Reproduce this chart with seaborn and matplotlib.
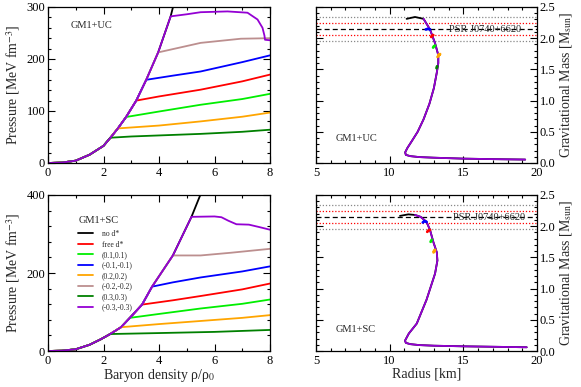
import numpy as np
import matplotlib
matplotlib.use("Agg")
import matplotlib.pyplot as plt
import seaborn as sns
from matplotlib.ticker import MultipleLocator, FormatStrFormatter

# ── data ──
# hadronic EoS (no d*), pressure vs density
rho_had_uc = [0, 0.5, 1.0, 1.5, 2.0, 2.24, 2.51, 2.82, 3.18, 3.54, 3.97, 4.42, 4.6]
p_had_uc = [0, 0.8, 4.5, 16, 33, 48, 66, 89, 120, 160, 212.7, 282, 320]
rho_had_sc = [0, 0.5, 1.0, 1.5, 1.9, 2.24, 2.63, 2.95, 3.39, 3.75, 4.5, 5.17, 5.5]
p_had_sc = [0, 0.8, 4.5, 16, 30, 43.5, 61, 85, 119, 165, 245, 344, 402]

labels = ["no d*", "free d*", "(0.1,0.1)", "(-0.1,-0.1)", "(0.2,0.2)",
          "(-0.2,-0.2)", "(0.3,0.3)", "(-0.3,-0.3)"]
colors = ["black", "red", "#00ee00", "blue", "orange", "rosybrown", "green", "darkviolet"]

# d* branches (onset first), GM1+UC
uc_rho = {
    "free d*": [3.18, 4.0, 5.5, 7.0, 8.0],
    "(0.1,0.1)": [2.82, 4.0, 5.5, 7.0, 8.0],
    "(-0.1,-0.1)": [3.54, 4.5, 5.5, 7.0, 8.0],
    "(0.2,0.2)": [2.51, 4.0, 5.5, 7.0, 8.0],
    "(-0.2,-0.2)": [3.97, 5.0, 5.5, 6.95, 8.0],
    "(0.3,0.3)": [2.24, 3.0, 5.5, 7.0, 8.0],
    "(-0.3,-0.3)": [4.42, 5.0, 5.5, 6.47, 7.19, 7.55, 7.73, 7.8, 7.82, 8.0],
}
uc_p = {
    "free d*": [120, 128, 141, 157, 170],
    "(0.1,0.1)": [88.5, 99, 112, 123, 133],
    "(-0.1,-0.1)": [160, 168, 176, 194, 207],
    "(0.2,0.2)": [66.5, 72, 80, 89, 97],
    "(-0.2,-0.2)": [212.7, 225, 231, 239, 240],
    "(0.3,0.3)": [48.6, 51, 56, 60, 64],
    "(-0.3,-0.3)": [282, 286, 290, 291.5, 289, 276, 260, 245, 237, 236],
}
# GM1+SC
sc_rho = {
    "free d*": [3.39, 4.5, 5.5, 7.0, 8.0],
    "(0.1,0.1)": [2.95, 4.0, 5.5, 7.0, 8.0],
    "(-0.1,-0.1)": [3.75, 4.5, 5.5, 7.0, 8.0],
    "(0.2,0.2)": [2.63, 4.0, 5.5, 7.0, 8.0],
    "(-0.2,-0.2)": [4.5, 5.5, 6.6, 8.0],
    "(0.3,0.3)": [2.24, 4.0, 6.0, 8.0],
    "(-0.3,-0.3)": [5.17, 6.0, 6.25, 6.5, 6.79, 7.24, 7.6, 8.0],
}
sc_p = {
    "free d*": [119, 130, 141, 158, 173],
    "(0.1,0.1)": [85, 95, 109, 121, 132],
    "(-0.1,-0.1)": [165, 176, 188.6, 204, 217],
    "(0.2,0.2)": [61, 69, 77, 85, 92],
    "(-0.2,-0.2)": [245, 245, 252, 262],
    "(0.3,0.3)": [43.5, 46, 49, 54],
    "(-0.3,-0.3)": [344, 345, 343, 334, 325, 324, 318, 311],
}

# mass-radius, hadronic sequence (low mass -> max -> beyond)
r_uc = [19.2, 17.0, 15.0, 13.0, 12.0, 11.4, 11.1, 11.05, 11.2, 11.5, 11.9, 12.3, 12.7,
        13.0, 13.2, 13.3, 13.3, 13.08, 12.74, 12.3, 11.72, 11.15]
m_uc = [0.055, 0.062, 0.07, 0.085, 0.095, 0.11, 0.13, 0.17, 0.24, 0.35, 0.5, 0.7, 0.95,
        1.2, 1.45, 1.6, 1.73, 1.92, 2.14, 2.31, 2.34, 2.31]
n_purple_uc = 20
r_sc = [19.3, 17.0, 15.0, 13.0, 12.0, 11.4, 11.1, 11.04, 11.3, 11.84, 12.5, 13.08, 13.24,
        13.2, 12.96, 12.74, 12.5, 12.1, 11.72, 11.27, 10.7]
m_sc = [0.06, 0.068, 0.075, 0.085, 0.095, 0.11, 0.13, 0.165, 0.28, 0.44, 0.82, 1.24, 1.45,
        1.58, 1.75, 1.94, 2.07, 2.15, 2.18, 2.19, 2.165]
n_purple_sc = 19

# short hybrid branches on the M-R curve
uc_mr_r = {
    "(-0.1,-0.1)": [12.74, 12.6, 12.45], "free d*": [12.96, 12.88, 12.82],
    "(0.1,0.1)": [13.08, 13.0, 12.95], "(0.2,0.2)": [13.3, 13.42, 13.25],
    "(0.3,0.3)": [13.22, 13.18],
}
uc_mr_m = {
    "(-0.1,-0.1)": [2.14, 2.15, 2.14], "free d*": [2.05, 2.04, 2.02],
    "(0.1,0.1)": [1.88, 1.87, 1.85], "(0.2,0.2)": [1.73, 1.745, 1.70],
    "(0.3,0.3)": [1.55, 1.52],
}
sc_mr_r = {
    "(-0.1,-0.1)": [12.5, 12.35, 12.25], "free d*": [12.74, 12.62, 12.55],
    "(0.1,0.1)": [12.85, 12.78], "(0.2,0.2)": [13.0, 13.08, 12.98],
}
sc_mr_m = {
    "(-0.1,-0.1)": [2.07, 2.08, 2.06], "free d*": [1.94, 1.93, 1.91],
    "(0.1,0.1)": [1.78, 1.75], "(0.2,0.2)": [1.6, 1.62, 1.58],
}

psr_mass = 2.14
psr_68 = [2.24, 2.05]
psr_95 = [2.34, 1.96]

# ── style ──
sns.set_theme(style="ticks")
plt.rcParams["font.family"] = ["Liberation Serif", "DejaVu Serif"]
plt.rcParams["mathtext.fontset"] = "stix"
plt.rcParams["axes.linewidth"] = 0.9

fig = plt.figure(figsize=(5.81, 3.87), dpi=100)
W, H = 581, 387
def pos(x0, y0, x1, y1):
    return [x0 / W, 1 - y1 / H, (x1 - x0) / W, (y1 - y0) / H]

ax_p_uc = fig.add_axes(pos(48, 7, 270, 163))
ax_p_sc = fig.add_axes(pos(48, 195, 270, 351))
ax_m_uc = fig.add_axes(pos(316, 7, 537, 163))
ax_m_sc = fig.add_axes(pos(316, 195, 537, 351))

lw = 1.3

def eos_panel(ax, rho_h, p_h, brho, bp, with_legend):
    sns.lineplot(x=rho_h, y=p_h, ax=ax, color=colors[0], lw=lw, sort=False,
                 estimator=None, label=labels[0] if with_legend else None)
    for lab, c in zip(labels[1:], colors[1:]):
        onset = brho[lab][0]
        xs = [r for r in rho_h if r < onset] + brho[lab]
        ys = [p for r, p in zip(rho_h, p_h) if r < onset] + bp[lab]
        sns.lineplot(x=xs, y=ys, ax=ax, color=c, lw=lw, sort=False, estimator=None,
                     label=lab if with_legend else None)
    ax.set_xlim(0, 8)
    ax.xaxis.set_major_locator(MultipleLocator(2))
    ax.xaxis.set_minor_locator(MultipleLocator(1))
    ax.set_ylabel("Pressure [MeV fm$^{-3}$]", fontsize=10, labelpad=3)

def mr_panel(ax, r, m, npur, br, bm, title):
    for lo, c, ls in [(psr_95, "#888888", (0, (1, 1.5))), (psr_68, "red", (0, (1, 1.5)))]:
        for v in lo:
            ax.axhline(v, color=c, lw=0.9, ls=ls)
    ax.axhline(psr_mass, color="black", lw=0.9, ls=(0, (4, 2.5)))
    sns.lineplot(x=r, y=m, ax=ax, color="black", lw=lw, sort=False, estimator=None)
    sns.lineplot(x=r[:npur], y=m[:npur], ax=ax, color="darkviolet", lw=lw, sort=False,
                 estimator=None)
    for lab in br:
        c = colors[labels.index(lab)]
        sns.lineplot(x=br[lab], y=bm[lab], ax=ax, color=c, lw=2.0, sort=False, estimator=None)
    ax.set_xlim(5, 20)
    ax.set_ylim(0, 2.5)
    ax.xaxis.set_major_locator(MultipleLocator(5))
    ax.xaxis.set_minor_locator(MultipleLocator(1))
    ax.yaxis.set_major_locator(MultipleLocator(0.5))
    ax.yaxis.set_minor_locator(MultipleLocator(0.1))
    ax.yaxis.set_major_formatter(FormatStrFormatter("%.1f"))
    ax.yaxis.set_label_position("right")
    ax.set_ylabel("Gravitational Mass [M$_\\mathrm{sun}$]", fontsize=10, labelpad=2)
    ax.text(6.3, 0.4 if title == "GM1+UC" else 0.34, title, fontsize=7.5, va="center")

eos_panel(ax_p_uc, rho_had_uc, p_had_uc, uc_rho, uc_p, False)
ax_p_uc.set_ylim(0, 300)
ax_p_uc.yaxis.set_major_locator(MultipleLocator(100))
ax_p_uc.yaxis.set_minor_locator(MultipleLocator(20))
ax_p_uc.text(0.82, 264, "GM1+UC", fontsize=7.5, va="center")

eos_panel(ax_p_sc, rho_had_sc, p_had_sc, sc_rho, sc_p, True)
ax_p_sc.set_ylim(0, 400)
ax_p_sc.yaxis.set_major_locator(MultipleLocator(200))
ax_p_sc.yaxis.set_minor_locator(MultipleLocator(40))
ax_p_sc.text(1.09, 335, "GM1+SC", fontsize=7.5, va="center")
ax_p_sc.set_xlabel("Baryon density ρ/ρ$_0$", fontsize=10, labelpad=0)
ax_p_sc.legend(loc="upper left", bbox_to_anchor=(0.133, 0.775), frameon=False,
               fontsize=5.5, handlelength=2.0, handletextpad=1.2, labelspacing=0.32,
               borderpad=0, borderaxespad=0)

mr_panel(ax_m_uc, r_uc, m_uc, n_purple_uc, uc_mr_r, uc_mr_m, "GM1+UC")
ax_m_uc.text(14.0, psr_mass, "PSR J0740+6620", fontsize=7.5, va="center")
mr_panel(ax_m_sc, r_sc, m_sc, n_purple_sc, sc_mr_r, sc_mr_m, "GM1+SC")
ax_m_sc.text(14.3, psr_mass, "PSR J0740+6620", fontsize=7.5, va="center")
ax_m_sc.set_xlabel("Radius [km]", fontsize=10, labelpad=0)

for ax in [ax_p_uc, ax_p_sc, ax_m_uc, ax_m_sc]:
    ax.tick_params(which="both", direction="in", top=True, right=True, labelsize=9,
                   colors="black")
    ax.tick_params(which="major", length=5, width=0.8, pad=2)
    ax.tick_params(which="minor", length=2.5, width=0.8)
    ax.tick_params(axis="x", which="major", pad=3)
    for s in ax.spines.values():
        s.set_color("black")
for ax in [ax_m_uc, ax_m_sc]:
    ax.tick_params(axis="y", which="both", left=True, labelleft=False, labelright=True)
for ax in [ax_p_uc, ax_m_uc]:
    ax.set_xlabel("")

fig.savefig("out.png", dpi=100)
